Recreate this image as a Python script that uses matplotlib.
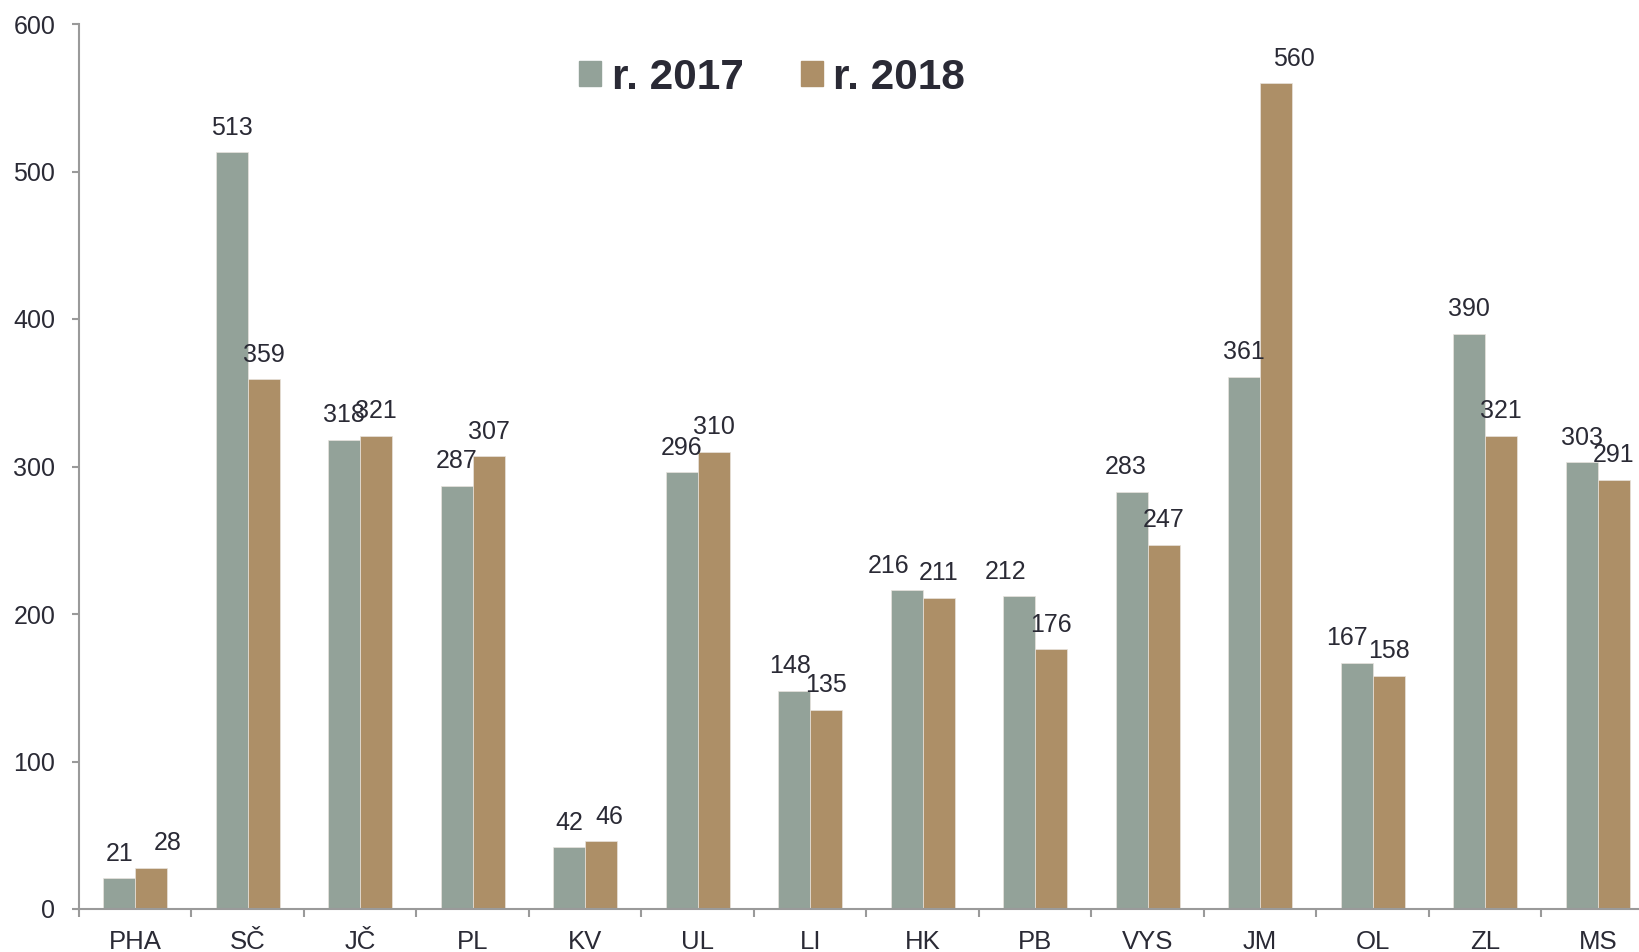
import numpy as np
import matplotlib.pyplot as plt
from matplotlib.patches import Patch

kraje = ["PHA", "SČ", "JČ", "PL", "KV", "UL", "LI", "HK", "PB", "VYS", "JM", "OL", "ZL", "MS"]
r2017 = [21, 513, 318, 287, 42, 296, 148, 216, 212, 283, 361, 167, 390, 303]
r2018 = [28, 359, 321, 307, 46, 310, 135, 211, 176, 247, 560, 158, 321, 291]

# posun popisku do strany (v bodech), aby se neprekryvaly
posun17 = [0, 0, 0, 0, 0, 0, -3, -13, -10, -4.5, 0, -7, 0, 0]
posun18 = [12, 0, 0, 0, 6, 0, 0, 0, 0, 0, 13, 0, 0, 0]

c17 = "#93a299"
c18 = "#ad8f67"
txt = "#2a2a35"
osa = "#9a9a9a"

plt.rcParams['font.family'] = ['Liberation Sans', 'DejaVu Sans']

fig = plt.figure(figsize=(16.4, 9.52), dpi=100)
ax = fig.add_axes([79/1640, 43/952, 1575/1640, 885/952])

x = np.arange(len(kraje))
w = 0.285
b1 = ax.bar(x - w/2, r2017, w, color=c17, edgecolor="#e8e4de", linewidth=0.5)
b2 = ax.bar(x + w/2, r2018, w, color=c18, edgecolor="#e8e4de", linewidth=0.5)

for bars, vals, pos in [(b1, r2017, posun17), (b2, r2018, posun18)]:
    for rect, v, dx in zip(bars, vals, pos):
        ax.annotate(str(v), (rect.get_x() + rect.get_width()/2, v), xytext=(dx, 9),
                    textcoords="offset points", ha="center", va="bottom",
                    fontsize=18, color=txt)

ax.set_xlim(-0.5, len(kraje) - 0.5)
ax.set_ylim(0, 600)
ax.set_yticks(range(0, 601, 100))
ax.set_xticks(x)
ax.set_xticklabels(kraje)
ax.set_xticks(np.arange(-0.5, len(kraje), 1), minor=True)

for s in ["top", "right"]:
    ax.spines[s].set_visible(False)
ax.spines["left"].set_color(osa)
ax.spines["bottom"].set_color(osa)
ax.spines["left"].set_linewidth(1.5)
ax.spines["bottom"].set_linewidth(1.5)

ax.tick_params(axis="y", direction="out", length=5, width=1.5, color=osa,
               labelsize=18, labelcolor=txt, pad=12)
ax.tick_params(axis="x", which="major", length=0, labelsize=18.5, labelcolor=txt, pad=15)
ax.tick_params(axis="x", which="minor", direction="out", length=6, width=1.5, color=osa)

handles = [Patch(color=c17, label="r. 2017"), Patch(color=c18, label="r. 2018")]
leg = ax.legend(handles=handles, loc="center", bbox_to_anchor=(0.44, 0.939), ncol=2,
                frameon=False, handlelength=0.53, handleheight=0.53, handletextpad=0.24,
                columnspacing=1.35, borderpad=0, prop={"size": 30.5, "weight": "bold"})
for t in leg.get_texts():
    t.set_color(txt)

fig.savefig("out.png", dpi=100)
